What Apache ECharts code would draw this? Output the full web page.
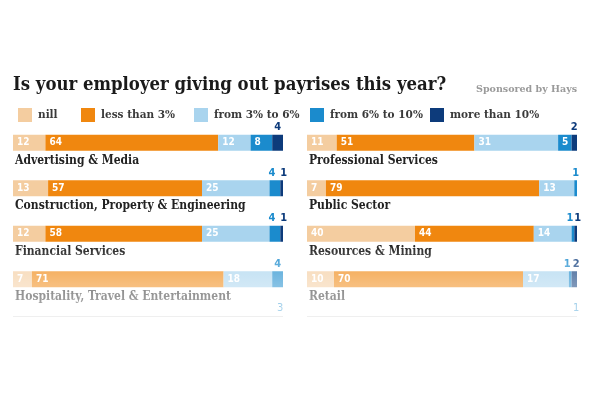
<!DOCTYPE html>
<html>
<head>
<meta charset="utf-8">
<script src="https://cdn.jsdelivr.net/npm/echarts@6/dist/echarts.min.js"></script>
<style>html,body{margin:0;padding:0;background:#fff}#c{width:600px;height:400px}</style>
</head>
<body>
<div id="c"></div>
<script>
// ---- data ----
const titleText = 'Is your employer giving out payrises this year?';
const sponsorText = 'Sponsored by Hays';
const levels = ['nill', 'less than 3%', 'from 3% to 6%', 'from 6% to 10%', 'more than 10%'];
const leftCategories = ['Advertising & Media', 'Construction, Property & Engineering', 'Financial Services', 'Hospitality, Travel & Entertainment'];
const rightCategories = ['Professional Services', 'Public Sector', 'Resources & Mining', 'Retail'];
const leftNill   = [12, 13, 12, 7];
const leftLess3  = [64, 57, 58, 71];
const left3to6   = [12, 25, 25, 18];
const left6to10  = [8, 4, 4, 4];
const leftOver10 = [4, 1, 1, 0];
const rightNill   = [11, 7, 40, 10];
const rightLess3  = [51, 79, 44, 70];
const right3to6   = [31, 13, 14, 17];
const right6to10  = [5, 1, 1, 1];
const rightOver10 = [2, 0, 1, 2];
const cutOffLeft = '3';
const cutOffRight = '1';

// ---- styles ----
const colors = ['#f4cda0', '#f0870f', '#a9d4ee', '#1b8bcd', '#0d3b7b'];
const serif = "'DejaVu Serif', serif";
const serifCond = "'DejaVu Serif Condensed', 'DejaVu Serif', serif";
const narrow = "'Liberation Sans Narrow', 'DejaVu Sans Condensed', 'Liberation Sans', sans-serif";

const leftSets = [leftNill, leftLess3, left3to6, left6to10, leftOver10];
const rightSets = [rightNill, rightLess3, right3to6, right6to10, rightOver10];

function buildData(sets, k) {
  return sets[k].map((v, i) => {
    const item = { value: v };
    if (v >= 5) {
      item.label = { show: true, position: 'insideLeft', distance: 4, color: '#fff',
        fontFamily: narrow, fontWeight: 'bold', fontSize: 10 };
    } else if (v > 0) {
      let dx = 0;
      if (k === 3 && sets[4][i] > 0 && sets[4][i] < 5) dx = -3;
      if (k === 4 && sets[3][i] > 0 && sets[3][i] < 5) dx = 2;
      item.label = { show: true, position: 'top', distance: 2, offset: [dx, 0], color: colors[k],
        fontFamily: narrow, fontWeight: 'bold', fontSize: 11 };
    }
    return item;
  });
}

const series = [];
[leftSets, rightSets].forEach((sets, g) => {
  levels.forEach((name, k) => {
    series.push({
      type: 'bar', name: name, stack: 'g' + g, xAxisIndex: g, yAxisIndex: g,
      barWidth: 16, itemStyle: { color: colors[k] },
      label: { show: false },
      data: buildData(sets, k)
    });
  });
});

const legendX = [13, 76, 189, 305, 425];
const legends = levels.map((name, k) => ({
  data: [name], left: legendX[k], top: 103, itemWidth: 14, itemHeight: 14, itemGap: 0,
  icon: 'rect', selectedMode: false,
  textStyle: { fontFamily: serif, fontSize: 10.5, fontWeight: 'bold', color: '#3a3a3a', padding: [0, 0, 0, 1] }
}));

const yAxisCommon = (cats) => ({
  type: 'category', data: cats, inverse: true,
  axisLine: { show: false }, axisTick: { show: false },
  axisLabel: { inside: true, margin: 2, verticalAlign: 'top', padding: [12, 0, 0, 0],
    fontFamily: serifCond, fontWeight: 'bold', fontSize: 12, color: '#222' }
});

const chart = echarts.init(document.getElementById('c'));
chart.setOption({
  animation: false,
  backgroundColor: '#fff',
  title: [
    { text: titleText, left: 8, top: 71, textStyle: { fontFamily: serifCond, fontWeight: 'bold', fontSize: 18.4, color: '#1a1a1a' } },
    { text: sponsorText, right: 18, top: 80, textStyle: { fontFamily: serif, fontWeight: 'bold', fontSize: 9.5, color: '#9a9a9a' } }
  ],
  legend: legends,
  grid: [
    { left: 13, width: 270, top: 120, height: 182 },
    { left: 307, width: 270, top: 120, height: 182 }
  ],
  xAxis: [
    { type: 'value', gridIndex: 0, min: 0, max: 100, show: false },
    { type: 'value', gridIndex: 1, min: 0, max: 100, show: false }
  ],
  yAxis: [
    Object.assign({ gridIndex: 0 }, yAxisCommon(leftCategories)),
    Object.assign({ gridIndex: 1 }, yAxisCommon(rightCategories))
  ],
  series: series,
  graphic: [
    { type: 'text', left: 277, top: 303, style: { text: cutOffLeft, fontFamily: narrow, fontSize: 11, fill: '#1b8bcd' } },
    { type: 'text', left: 573, top: 303, style: { text: cutOffRight, fontFamily: narrow, fontSize: 11, fill: '#1b8bcd' } },
    { type: 'rect', shape: { x: 13, y: 316, width: 270, height: 1 }, style: { fill: '#ccc' } },
    { type: 'rect', shape: { x: 307, y: 316, width: 270, height: 1 }, style: { fill: '#ccc' } },
    { type: 'rect', silent: true, z: 100, shape: { x: 0, y: 245, width: 600, height: 155 },
      style: { fill: { type: 'linear', x: 0, y: 0, x2: 0, y2: 1, colorStops: [
        { offset: 0, color: 'rgba(255,255,255,0)' },
        { offset: 0.13, color: 'rgba(255,255,255,0.3)' },
        { offset: 0.25, color: 'rgba(255,255,255,0.45)' },
        { offset: 0.4, color: 'rgba(255,255,255,0.6)' },
        { offset: 0.5, color: 'rgba(255,255,255,0.75)' },
        { offset: 0.6, color: 'rgba(255,255,255,1)' },
        { offset: 1, color: 'rgba(255,255,255,1)' }
      ] } } }
  ]
});
</script>
</body>
</html>
